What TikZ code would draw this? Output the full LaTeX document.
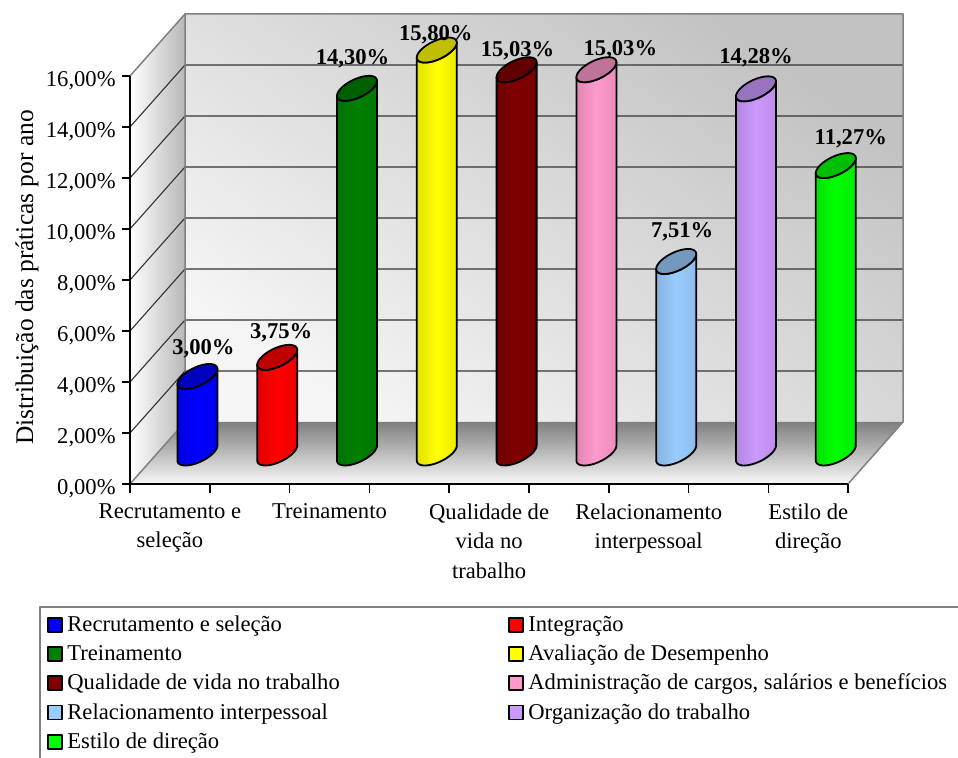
\documentclass[tikz,border=0pt]{standalone}
\usepackage{fontspec}
\setmainfont{Liberation Serif}
\definecolor{recblue}{HTML}{0000FF}
\definecolor{intred}{HTML}{FF0000}
\definecolor{treingreen}{HTML}{008000}
\definecolor{avalyellow}{HTML}{FFFF00}
\definecolor{qvtmaroon}{HTML}{800000}
\definecolor{admpink}{HTML}{FF99CC}
\definecolor{relblue}{HTML}{99CCFF}
\definecolor{orglilac}{HTML}{CC99FF}
\definecolor{estgreen}{HTML}{00FF00}
\pgfkeys{/pgf/number format/.cd, fixed, fixed zerofill, precision=2, use comma, assume math mode=true}
\tikzset{
  wall edge/.style={draw=black!50, line width=0.75pt},
  grid line/.style={draw=black!80, line width=0.55pt},
  axis line/.style={draw=black, line width=0.75pt},
  txt/.style={font=\fontsize{11.3}{14.75}\selectfont, inner sep=0pt},
  tick label/.style={txt, anchor=base east},
  cat label/.style={txt, anchor=north, align=center},
  value label/.style={txt, font=\fontsize{11.3}{14.75}\selectfont\bfseries, anchor=base},
  key box/.style={draw=black, line width=0.6pt, minimum size=7pt, inner sep=0pt},
  key text/.style={txt, anchor=base west},
}
\begin{document}
\begin{tikzpicture}[x=0.5pt, y=0.5pt, line join=round]
  \useasboundingbox (0,0) rectangle (958,758);
  \begin{scope}[shift={(130,274)}]
    % walls and floor
    \shade[top color=black!24, bottom color=black!4, shading angle=-35] (55,62) rectangle (773,470);
    \shade[left color=white, right color=black!28] (0,0) -- (55,62) -- (55,470) -- (0,408) -- cycle;
    \shade[top color=black!50, bottom color=black!3] (0,0) -- (718,0) -- (773,62) -- (55,62) -- cycle;
    \foreach \k in {1,...,7}
      \draw[grid line] (0,51*\k) -- ++(55,62) -- ++(718,0);
    \draw[wall edge] (0,0) -- (55,62) -- (55,470) (0,408) -- (55,470) -- (773,470) -- (773,62) -- (718,0);
    % axes
    \draw[axis line] (0,408) -- (0,0) -- (718,0);
    \foreach \k in {0,...,8}{
      \pgfmathsetmacro\p{2*\k}
      \draw[axis line] (-8,51*\k) -- (0,51*\k);
      \node[tick label] (tick\k) at (-14,51*\k-11) {\pgfmathprintnumber{\p}\%};
    }
    \foreach \k in {0,...,9}
      \draw[axis line] (79.8*\k,0) -- (79.8*\k,-9);
    \foreach \n/\lab in {1/{Recrutamento e\\seleção}, 3/Treinamento, 5/{Qualidade de\\vida no\\trabalho}, 7/{Relacionamento\\interpessoal}, 9/{Estilo de\\direção}}
      \node[cat label] (cat\n) at (79.8*\n-39.9,-19) {\lab};
    % cylinders
    \foreach \n/\v/\col/\dx/\dy in {1/3.00/recblue/6/21.5, 2/3.75/intred/4/18.4, 3/14.30/treingreen/-4.5/23.4, 4/15.80/avalyellow/-1/10, 5/15.03/qvtmaroon/1/13.7, 6/15.03/admpink/24/14.7, 7/7.51/relblue/6/23.5, 8/14.28/orglilac/0/25, 9/11.27/estgreen/15/20.6}{
      \pgfmathsetmacro\cx{79.8*(\n-0.5)+27.5}
      \pgfmathsetmacro\ty{31+25.5*\v}
      \draw[line width=0.9pt, left color=\col!88!black, right color=\col!92!black, middle color=\col]
        plot[domain=180:360, samples=37, variable=\t] ({\cx+20*cos(\t)}, {31+7.5*cos(\t)+10*sin(\t)})
        -- plot[domain=0:-180, samples=37, variable=\t] ({\cx+20*cos(\t)}, {\ty+7.5*cos(\t)+10*sin(\t)}) -- cycle;
      \draw[line width=0.9pt, fill=\col!75!black]
        plot[domain=0:360, samples=73, variable=\t] ({\cx+20*cos(\t)}, {\ty+7.5*cos(\t)+10*sin(\t)}) -- cycle;
      \node[value label] (val\n) at (\cx+\dx,\ty+\dy) {\pgfmathprintnumber{\v}\%};
    }
  \end{scope}
  \node[txt, font=\fontsize{12.7}{15}\selectfont, rotate=90, anchor=base] (ytitle) at (33,480.5) {Distribuição das práticas por ano};
  % legend
  \draw[draw=black!50, line width=0.75pt] (40,-10) |- (970,151);
  \foreach \kx/\ky/\col/\txt [count=\j] in {55/126/recblue/Recrutamento e seleção, 516/126/intred/Integração, 55/97/treingreen/Treinamento, 516/97/avalyellow/Avaliação de Desempenho, 55/68/qvtmaroon/Qualidade de vida no trabalho, 516/68/admpink/{Administração de cargos, salários e benefícios}, 55/38.5/relblue/Relacionamento interpessoal, 516/38.5/orglilac/Organização do trabalho, 55/9/estgreen/Estilo de direção}{
    \node[key box, fill=\col] (key\j) at (\kx,\ky+7) {};
    \node[key text] (keytext\j) at (\kx+12,\ky) {\txt};
  }
\end{tikzpicture}
\end{document}
